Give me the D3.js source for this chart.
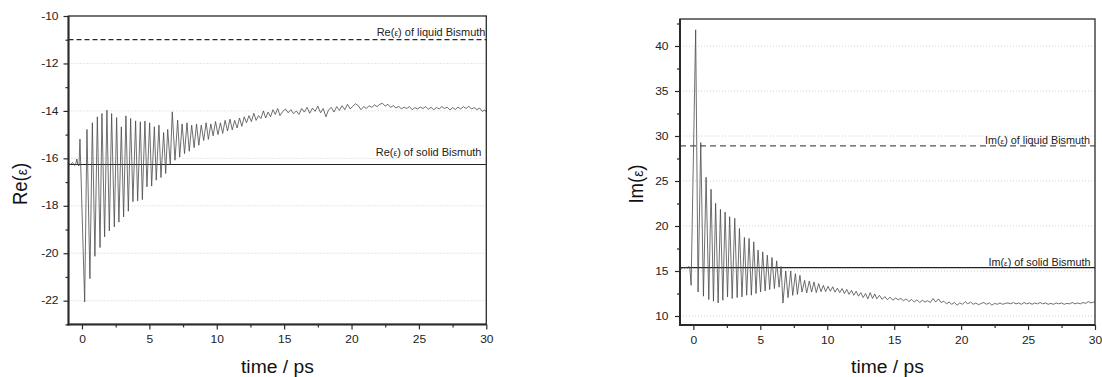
<!DOCTYPE html>
<html><head><meta charset="utf-8">
<script src="https://cdn.jsdelivr.net/npm/d3@7"></script>
<style>
body{margin:0;background:#fff;}
svg{display:block;font-family:"Liberation Sans",Arial,sans-serif;}
</style>
</head><body>
<svg id="chart" width="1102" height="377"></svg>
<script>
// ---------- data ----------
const timeTicks = [0, 5, 10, 15, 20, 25, 30];
const timeMinorTicks = [2.5, 7.5, 12.5, 17.5, 22.5, 27.5];
const reTicks = [-22, -20, -18, -16, -14, -12, -10];
const reMinorTicks = [-23, -21, -19, -17, -15, -13, -11];
const imTicks = [10, 15, 20, 25, 30, 35, 40];
const imMinorTicks = [12.5, 17.5, 22.5, 27.5, 32.5, 37.5, 42.5];

const reLiquid = -11.0;
const reSolid = -16.26;
const imLiquid = 28.9;
const imSolid = 15.38;

const reTime = [-1.00,-0.85,-0.70,-0.55,-0.45,-0.38,-0.30,-0.22,-0.15,
 0.20,0.37,0.59,0.77,0.96,1.14,1.34,1.48,1.68,1.85,2.03,2.20,2.40,2.57,2.74,2.92,3.09,3.26,3.44,3.61,3.78,3.98,
 4.13,4.33,4.48,4.67,4.82,5.02,5.17,5.37,5.51,5.71,5.86,6.06,6.21,6.36,6.55,6.70,6.90,7.10,7.25,7.43,7.61,7.79,
 7.96,8.14,8.32,8.50,8.67,8.85,9.03,9.21,9.38,9.56,9.73,9.91,10.09,10.27,10.44,10.62,10.80,10.98,11.15,11.33,
 11.51,11.69,11.86,12.04,12.21,12.39,12.57,12.75,12.92,13.10,13.28,13.46,13.63,13.81,13.99,14.17,14.34,14.52,14.69,
 14.9,15.1,15.3,15.5,15.7,15.9,16.1,16.3,16.5,16.7,16.9,17.1,17.3,17.5,17.7,17.9,18.1,18.3,18.5,18.7,18.9,19.1,
 19.3,19.5,19.7,19.9,20.1,20.3,20.5,20.7,20.9,21.1,21.3,21.5,21.7,21.9,22.1,22.3,22.5,22.7,22.9,23.1,23.3,23.5,
 23.7,23.9,24.1,24.3,24.5,24.7,24.9,25.1,25.3,25.5,25.7,25.9,26.1,26.3,26.5,26.7,26.9,27.1,27.3,27.5,27.7,27.9,
 28.1,28.3,28.5,28.7,28.9,29.1,29.3,29.5,29.7,29.9,30.0];
const reValue = [-16.20,-16.26,-16.18,-16.30,-16.20,-16.03,-16.28,-16.32,-15.19,
 -22.05,-14.78,-21.07,-14.50,-20.13,-14.25,-19.76,-14.11,-19.31,-13.97,-19.06,-14.11,-18.89,-14.28,-18.69,-14.67,-18.47,-14.21,-18.23,-14.32,-17.83,-14.42,
 -17.79,-14.46,-17.74,-14.43,-17.20,-14.50,-17.17,-14.67,-16.92,-14.60,-16.81,-14.91,-16.64,-14.78,-16.26,-14.04,-16.08,-14.39,-15.95,-14.55,-15.80,-14.50,
 -15.70,-14.60,-15.55,-14.55,-15.45,-14.60,-15.25,-14.50,-15.20,-14.55,-15.05,-14.45,-15.00,-14.50,-14.95,-14.40,-14.85,-14.35,-14.80,-14.40,
 -14.72,-14.30,-14.65,-14.25,-14.50,-14.20,-14.45,-14.10,-14.40,-14.20,-14.32,-14.00,-14.30,-14.05,-14.25,-13.95,-14.15,-13.90,-14.20,
 -14.02,-13.92,-14.08,-13.95,-14.12,-14.00,-14.15,-13.90,-14.05,-13.85,-14.10,-13.88,-14.02,-13.80,-14.08,-13.90,-14.25,-13.95,-13.85,-14.05,-13.82,-13.98,
 -13.78,-13.95,-13.72,-13.92,-13.80,-13.70,-13.78,-13.95,-13.82,-13.90,-13.78,-13.85,-13.75,-13.82,-13.72,-13.68,-13.80,-13.72,-13.85,-13.78,-13.88,-13.80,
 -13.92,-13.84,-13.90,-13.82,-13.95,-13.86,-13.92,-13.84,-13.90,-13.82,-13.93,-13.85,-13.95,-13.86,-13.92,-13.82,-13.90,-13.84,-13.96,-13.86,-13.94,-13.84,
 -13.92,-13.82,-13.90,-13.80,-13.92,-13.86,-13.95,-13.88,-14.02,-13.96,-14.04];

const imTime = [-1.00,-0.88,-0.76,-0.64,-0.52,-0.42,-0.34,-0.26,-0.17,
 0.17,0.35,0.55,0.75,0.95,1.15,1.32,1.50,1.66,1.85,2.02,2.20,2.37,2.55,2.71,2.90,3.09,3.27,3.44,3.63,3.81,3.98,
 4.16,4.33,4.51,4.68,4.83,5.02,5.18,5.36,5.52,5.70,5.87,6.05,6.22,6.40,6.55,6.69,6.90,7.07,7.27,7.42,7.62,7.77,
 7.96,8.11,8.31,8.46,8.66,8.83,9.01,9.18,9.36,9.53,9.71,9.88,10.06,10.23,10.41,10.58,10.76,10.93,11.11,11.28,
 11.46,11.63,11.81,11.98,12.16,12.33,12.51,12.68,12.86,13.03,13.21,13.38,13.55,
 13.7,13.9,14.1,14.3,14.5,14.7,14.9,15.1,15.3,15.5,15.7,15.9,16.1,16.3,16.5,16.7,16.9,17.1,17.3,17.5,17.7,17.9,
 18.1,18.3,18.5,18.7,18.9,19.1,19.3,19.5,19.7,19.9,20.1,20.3,20.5,20.7,20.9,21.1,21.3,21.5,21.7,21.9,22.1,22.3,
 22.5,22.7,22.9,23.1,23.3,23.5,23.7,23.9,24.1,24.3,24.5,24.7,24.9,25.1,25.3,25.5,25.7,25.9,26.1,26.3,26.5,26.7,
 26.9,27.1,27.3,27.5,27.7,27.9,28.1,28.3,28.5,28.7,28.9,29.1,29.3,29.5,29.7,29.9,30.0];
const imValue = [15.35,15.25,15.42,15.30,15.45,15.28,15.52,15.30,13.42,
 41.80,12.67,29.27,12.20,25.41,11.83,24.08,11.64,22.52,11.45,21.85,11.75,21.55,12.12,21.03,11.94,20.85,12.05,19.73,12.12,18.73,12.31,
 18.62,12.31,18.24,12.50,17.32,12.67,17.13,12.78,16.76,12.94,16.50,13.05,16.13,13.20,15.50,11.44,15.00,12.04,15.00,12.29,14.71,12.40,
 14.52,12.66,13.96,12.55,13.89,12.66,13.78,12.60,13.60,12.70,13.40,12.70,13.30,12.75,13.25,12.65,13.10,12.60,13.05,12.50,
 12.95,12.40,12.85,12.30,12.75,12.20,12.60,12.05,12.50,11.90,12.60,11.95,12.45,
 11.90,12.30,11.85,12.15,11.80,12.10,11.75,12.00,11.80,11.95,11.70,11.90,11.60,11.85,11.55,11.80,11.50,11.75,11.55,11.70,11.50,11.95,
 11.55,11.90,11.50,11.65,11.35,11.55,11.30,11.50,11.20,11.45,11.30,11.60,11.35,11.55,11.30,11.45,11.25,11.40,11.50,11.30,11.45,11.20,
 11.40,11.30,11.45,11.30,11.40,11.45,11.35,11.50,11.35,11.45,11.30,11.50,11.35,11.45,11.30,11.45,11.35,11.50,11.35,11.45,11.30,11.40,
 11.30,11.45,11.35,11.45,11.30,11.40,11.35,11.50,11.35,11.45,11.35,11.50,11.40,11.60,11.45,11.55,11.50];

// ---------- drawing ----------
const svg = d3.select('#chart');

function stretch(sel, f) {
  sel.each(function () {
    const w = this.getComputedTextLength();
    this.setAttribute('textLength', w * f);
    this.setAttribute('lengthAdjust', 'spacingAndGlyphs');
  });
}

function addEps(textSel, prefix, suffix) {
  textSel.append('tspan').text(prefix + '(');
  textSel.append('tspan').attr('font-size', '0.75em').text('\u03B5');
  textSel.append('tspan').text(')' + suffix);
}

function panel(cfg) {
  const g = svg.append('g');
  const x = d3.scaleLinear().domain([-1, 30]).range([cfg.x0, cfg.x1]);
  const y = d3.scaleLinear().domain(cfg.yDomain).range([cfg.y1, cfg.y0]);

  // grid
  g.selectAll('line.grid').data(cfg.ticks.filter(d => y(d) > cfg.y0 + 2))
    .join('line').attr('class', 'grid')
    .attr('x1', cfg.x0).attr('x2', cfg.x1)
    .attr('y1', d => y(d)).attr('y2', d => y(d))
    .attr('stroke', '#c4c4c4').attr('stroke-width', 0.8).attr('stroke-dasharray', '1,2');

  // reference lines
  g.append('line').attr('x1', cfg.x0).attr('x2', cfg.x1)
    .attr('y1', y(cfg.liquid)).attr('y2', y(cfg.liquid))
    .attr('stroke', cfg.dashColor).attr('stroke-width', 1.2).attr('stroke-dasharray', cfg.dash);
  g.append('line').attr('x1', cfg.x0).attr('x2', cfg.x1)
    .attr('y1', y(cfg.solid)).attr('y2', y(cfg.solid))
    .attr('stroke', '#222').attr('stroke-width', 1.1);

  // data
  const pts = cfg.t.map((t, i) => [t, cfg.v[i]]);
  g.append('path').datum(pts)
    .attr('fill', 'none').attr('stroke', '#4a4a4a').attr('stroke-width', 0.8)
    .attr('stroke-linejoin', 'round')
    .attr('d', d3.line().x(d => x(d[0])).y(d => y(d[1])));

  // frame
  g.append('rect').attr('x', cfg.x0).attr('y', cfg.y0)
    .attr('width', cfg.x1 - cfg.x0).attr('height', cfg.y1 - cfg.y0)
    .attr('fill', 'none').attr('stroke', '#2a2a2a').attr('stroke-width', 1.3);
  g.append('line').attr('x1', cfg.x0).attr('x2', cfg.x0).attr('y1', cfg.y0).attr('y2', cfg.y1 + 1)
    .attr('stroke', '#2a2a2a').attr('stroke-width', 2);
  g.append('line').attr('x1', cfg.x0 - 1).attr('x2', cfg.x1).attr('y1', cfg.y1).attr('y2', cfg.y1)
    .attr('stroke', '#2a2a2a').attr('stroke-width', 2);

  const font = '"Liberation Sans",Arial,sans-serif';
  // axes
  const xa = g.append('g').attr('transform', `translate(0,${cfg.y1})`)
    .call(d3.axisBottom(x).tickValues(timeTicks).tickSize(5).tickSizeOuter(0).tickPadding(7).tickFormat(d => String(d)));
  const xm = g.append('g').attr('transform', `translate(0,${cfg.y1})`)
    .call(d3.axisBottom(x).tickValues(timeMinorTicks).tickSize(3).tickSizeOuter(0).tickFormat(''));
  const ya = g.append('g').attr('transform', `translate(${cfg.x0},0)`)
    .call(d3.axisLeft(y).tickValues(cfg.ticks).tickSize(5).tickSizeOuter(0).tickPadding(cfg.yPad).tickFormat(d => String(d)));
  const ym = g.append('g').attr('transform', `translate(${cfg.x0},0)`)
    .call(d3.axisLeft(y).tickValues(cfg.minor).tickSize(3).tickSizeOuter(0).tickFormat(''));
  [xa, xm, ya, ym].forEach(a => {
    a.select('.domain').remove();
    a.attr('font-family', font).attr('font-size', 10);
    a.selectAll('line').attr('stroke', '#2a2a2a').attr('stroke-width', 1.2);
    a.selectAll('text').attr('fill', '#222');
  });
  stretch(xa.selectAll('text'), 1.2);
  stretch(ya.selectAll('text'), 1.2);

  // reference labels
  const l1 = g.append('text').attr('x', cfg.liqLabel[0]).attr('y', cfg.liqLabel[1])
    .attr('text-anchor', 'end').attr('font-size', cfg.labFont).attr('fill', '#222');
  addEps(l1, cfg.name, ' of liquid Bismuth');
  const l2 = g.append('text').attr('x', cfg.solLabel[0]).attr('y', cfg.solLabel[1])
    .attr('text-anchor', 'end').attr('font-size', cfg.labFont).attr('fill', '#222');
  addEps(l2, cfg.name, ' of solid Bismuth');

  // axis titles
  const xt = g.append('text').attr('x', (cfg.x0 + cfg.x1) / 2).attr('y', 372.5)
    .attr('text-anchor', 'middle').attr('font-size', 18).attr('fill', '#111').text('time / ps');
  stretch(xt, 1.07);
  const yt = g.append('text')
    .attr('transform', `translate(${cfg.yTitleX},184) scale(1.1,1) rotate(-90)`)
    .attr('text-anchor', 'middle').attr('font-size', 18.5).attr('fill', '#111');
  addEps(yt, cfg.name, '');
}

panel({
  x0: 68.5, x1: 486.3, y0: 16, y1: 324.4, yDomain: [-23, -10],
  ticks: reTicks, minor: reMinorTicks, t: reTime, v: reValue,
  liquid: reLiquid, solid: reSolid, dash: '5,3', dashColor: '#2a2a2a',
  name: 'Re', liqLabel: [485.5, 35.5], solLabel: [481.5, 156], labFont: 11,
  yPad: 5, yTitleX: 26.5
});
panel({
  x0: 680, x1: 1095, y0: 19, y1: 325, yDomain: [9, 43],
  ticks: imTicks, minor: imMinorTicks, t: imTime, v: imValue,
  liquid: imLiquid, solid: imSolid, dash: '6,4', dashColor: '#555',
  name: 'Im', liqLabel: [1090, 144], solLabel: [1090.5, 265.5], labFont: 10.8,
  yPad: 6.5, yTitleX: 643
});
</script>
</body></html>
